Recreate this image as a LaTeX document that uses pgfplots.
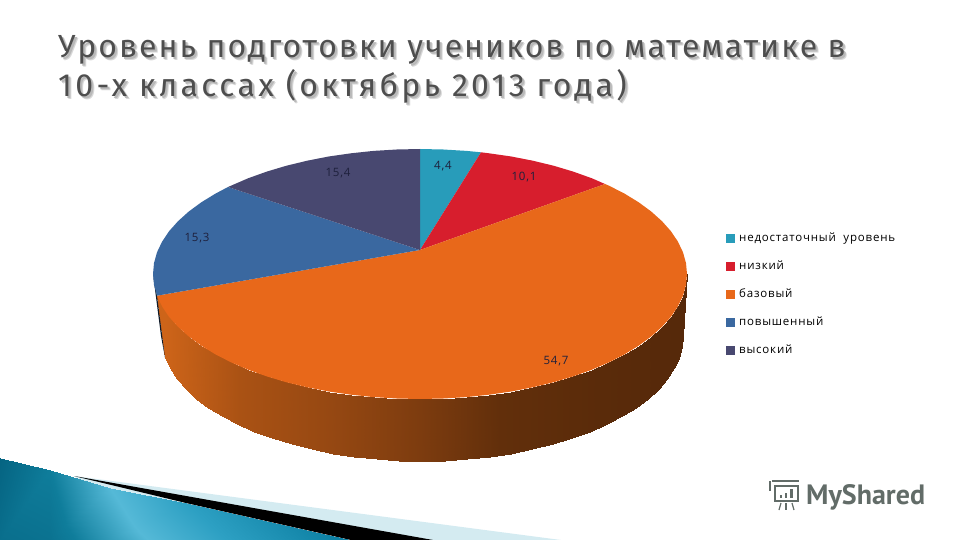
\documentclass[border=0pt]{standalone}
\usepackage{fontspec}
\usepackage{pgfplots}
\pgfplotsset{compat=1.18}
\setmainfont{Open Sans}
\newfontfamily\titlefont[LetterSpace=6.3]{Fira Sans}
\newfontfamily\titlefontb[LetterSpace=10.4]{Fira Sans}
\newfontfamily\legendfont[LetterSpace=7]{Open Sans}
\newfontfamily\logofont{PT Sans}

\definecolor{cTeal}{RGB}{40,156,186}
\definecolor{cRed}{RGB}{215,30,45}
\definecolor{cOrange}{RGB}{232,104,26}
\definecolor{cBlue}{RGB}{58,104,160}
\definecolor{cNavy}{RGB}{72,72,112}
\definecolor{cLabel}{RGB}{30,32,60}
\definecolor{cTitle}{RGB}{78,78,78}
\definecolor{cShadow}{RGB}{185,185,185}
\definecolor{cLogo}{RGB}{98,108,104}

\newcommand{\titlelines}[3]{%
  \node[anchor=base west,inner sep=0pt,text=#1,font=\titlefont\fontsize{32}{32}\selectfont] at (axis cs:58+#2,58+#3) {Уровень подготовки учеников по математике в};
  \node[anchor=base west,inner sep=0pt,text=#1,font=\titlefontb\fontsize{32}{32}\selectfont] at (axis cs:58+#2,97+#3) {10-х классах (октябрь 2013 года)};
}

\begin{document}
\begin{tikzpicture}
\useasboundingbox (0,0) rectangle (960pt,540pt);
\begin{axis}[
  scale only axis,
  width=960pt,height=540pt,
  xmin=0,xmax=960,ymin=0,ymax=540,
  y dir=reverse,
  hide axis,
  point meta min=0,point meta max=700,
  legend style={
    at={(axis cs:726,233)},anchor=north west,
    draw=none,fill=none,inner sep=0pt,
    font=\legendfont\fontsize{11.5}{11.5}\selectfont,
    row sep=18pt,column sep=4pt,
    nodes={text height=8pt,text depth=2pt,inner sep=0pt,anchor=base west},
  },
  legend cell align=left,
  legend image code/.code={\fill[#1] (0pt,-1.5pt) rectangle (9pt,7.5pt);},
  colormap={corner}{rgb255(0pt)=(5,100,130); rgb255(70pt)=(15,125,155); rgb255(150pt)=(85,185,215);
    rgb255(230pt)=(45,160,195); rgb255(351pt)=(10,125,160); rgb255(700pt)=(10,125,160)},
  colormap={side}{rgb255(0pt)=(205,100,25); rgb255(165pt)=(205,100,25); rgb255(240pt)=(170,82,20);
    rgb255(330pt)=(150,72,18); rgb255(420pt)=(125,60,15); rgb255(500pt)=(98,47,11);
    rgb255(600pt)=(90,43,10); rgb255(700pt)=(85,40,10)},
]

% bottom left decoration
\addplot[fill=cTeal!20,draw=none,forget plot] coordinates {(74,476)(561,540)(186,540)};
\addplot[fill=black,draw=none,forget plot] coordinates {(74,476)(433,540)(351,540)(186,503)};
\addplot[surf,shader=interp,colormap name=corner,mesh/rows=2,point meta=explicit,forget plot]
  table[meta=c] {
x y c
0 458 0
50 470 70
110 488 150
186 503 230
351 540 351
0 540 30
50 540 40
110 540 110
186 540 190
351 540 351
};

% side wall of the pie, left to right
\addplot[surf,shader=interp,colormap name=side,mesh/rows=2,point meta=x,forget plot]
  table {
x y
157 295.7
162.1 306.4
169 316.8
178 326.8
188.8 336.5
201.3 345.7
215.5 354.4
231.2 362.4
248.3 369.8
266.8 376.4
286.5 382.3
307.2 387.3
328.7 391.5
350.9 394.7
373.5 397.1
396.7 398.5
420 399
443.3 398.5
466.5 397.1
489.1 394.7
511.3 391.5
532.8 387.3
553.5 382.3
573.2 376.4
591.7 369.8
608.8 362.4
624.5 354.4
638.7 345.7
651.2 336.5
662 326.8
671 316.8
677.9 306.4
683 295.7
686 284.9
687 274
165 357.7
169.9 368.4
176.7 378.8
185.5 388.8
196 398.5
208.2 407.7
222 416.4
237.4 424.4
254.2 431.8
272.3 438.4
291.5 444.3
311.7 449.3
332.7 453.5
354.4 456.7
376.6 459.1
399.2 460.5
422 461
444.8 460.5
467.4 459.1
489.6 456.7
511.3 453.5
532.3 449.3
552.5 444.3
571.7 438.4
589.8 431.8
606.6 424.4
622 416.4
635.8 407.7
648 398.5
658.5 388.8
667.3 378.8
674.1 368.4
679 357.7
682 346.9
683 336
};
\addplot[fill=black!75!cBlue,draw=none,forget plot] coordinates {(153,274)(157,295.7)(165,357.7)(161,336)};

% top of the pie, one wedge per category
\addplot[fill=cTeal,draw=none] coordinates {(420,250)(420,149)(443.3,149.5)(466.5,150.9)(481,152.3)};
\addlegendentry{недостаточный\ \ уровень}
\addplot[fill=cRed,draw=none] coordinates {(420,250)(481,152.3)(489.1,153.3)(511.3,156.5)(532.8,160.7)(553.5,165.7)(573.2,171.6)(591.7,178.2)(605,184)};
\addlegendentry{низкий}
\addplot[fill=cOrange,draw=none] coordinates {(420,250)(605,184)(608.8,185.6)(624.5,193.6)(638.7,202.3)(651.2,211.5)(662,221.2)(671,231.3)(677.9,241.6)(683,252.3)(686,263.1)(687,274)(686,284.9)(683,295.7)(677.9,306.4)(671,316.8)(662,326.8)(651.2,336.5)(638.7,345.7)(624.5,354.4)(608.8,362.4)(591.7,369.8)(573.2,376.4)(553.5,382.3)(532.8,387.3)(511.3,391.5)(489.1,394.7)(466.5,397.1)(443.3,398.5)(420,399)(396.7,398.5)(373.5,397.1)(350.9,394.7)(328.7,391.5)(307.2,387.3)(286.5,382.3)(266.8,376.4)(248.3,369.8)(231.2,362.4)(215.5,354.4)(201.3,345.7)(188.8,336.5)(178,326.8)(169,316.8)(162.1,306.4)(157,295.7)};
\addlegendentry{базовый}
\addplot[fill=cBlue,draw=none] coordinates {(420,250)(157,295.7)(154,284.9)(153,274)(154,263.1)(157,252.3)(162.1,241.6)(169,231.3)(178,221.2)(188.8,211.5)(201.3,202.3)(215.5,193.6)(228,187)};
\addlegendentry{повышенный}
\addplot[fill=cNavy,draw=none] coordinates {(420,250)(228,187)(231.2,185.6)(248.3,178.2)(266.8,171.6)(286.5,165.7)(307.2,160.7)(328.7,156.5)(350.9,153.3)(373.5,150.9)(396.7,149.5)(420,149)};
\addlegendentry{высокий}

% value labels
\node[text=cLabel,font=\legendfont\fontsize{11.5}{11.5}\selectfont] at (axis cs:443,166) {4,4};
\node[text=cLabel,font=\legendfont\fontsize{11.5}{11.5}\selectfont] at (axis cs:524,177) {10,1};
\node[text=cLabel,font=\legendfont\fontsize{11.5}{11.5}\selectfont] at (axis cs:556,361) {54,7};
\node[text=cLabel,font=\legendfont\fontsize{11.5}{11.5}\selectfont] at (axis cs:197,238) {15,3};
\node[text=cLabel,font=\legendfont\fontsize{11.5}{11.5}\selectfont] at (axis cs:338,173) {15,4};

% title with its shadow
\titlelines{cShadow!55}{3}{3}
\titlelines{cShadow}{2}{2}
\titlelines{cTitle}{0}{0}

% logo
\node[anchor=base west,inner sep=0pt,text=cLogo,font=\logofont\bfseries\fontsize{28}{28}\selectfont] at (axis cs:806,504) {MyShared};
\draw[cLogo,line width=1.6pt] (axis cs:772,481) -- (axis cs:799,481);
\draw[cLogo,line width=1.4pt] (axis cs:775,486) rectangle (axis cs:798,501);
\draw[cLogo,line width=1.4pt] (axis cs:770,481) -- (axis cs:770,491);
\fill[cLogo] (axis cs:780,495) rectangle (axis cs:782,498);
\fill[cLogo] (axis cs:785,493) rectangle (axis cs:787,498);
\fill[cLogo] (axis cs:790,489) rectangle (axis cs:793,498);
\draw[cLogo,line width=1.2pt] (axis cs:781,503) -- (axis cs:779,510);
\draw[cLogo,line width=1.2pt] (axis cs:786,503) -- (axis cs:786,510);
\draw[cLogo,line width=1.2pt] (axis cs:792,503) -- (axis cs:794,510);
\end{axis}
\end{tikzpicture}
\end{document}
